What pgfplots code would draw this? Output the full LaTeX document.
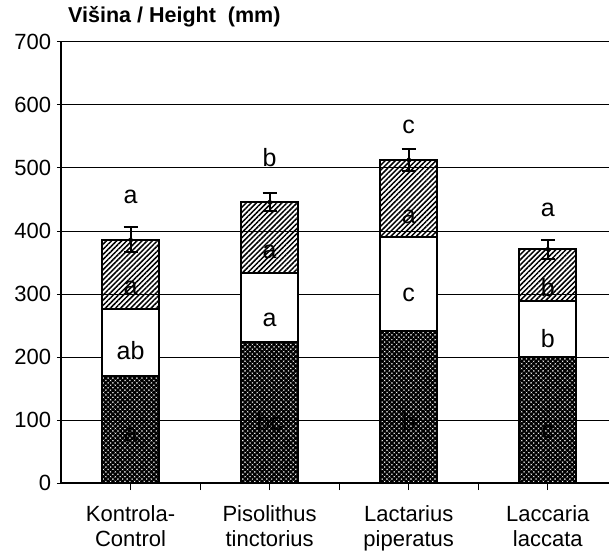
\documentclass[border=0pt]{standalone}
\usepackage{fontspec}
\setmainfont{Liberation Sans}
\usepackage{pgfplots}
\pgfplotsset{compat=1.18}
\usetikzlibrary{patterns.meta}
\tikzset{sig/.style={font=\fontsize{25}{28}\selectfont, inner sep=0pt}}
\begin{document}
\begin{tikzpicture}
\begin{axis}[
  name=ax,
  at={(61pt,73pt)}, anchor=south west,
  scale only axis, width=548pt, height=441pt,
  xmin=-0.5, xmax=3.44, ymin=0, ymax=700,
  clip=false,
  ybar stacked, bar width=57pt,
  axis x line=bottom, axis y line=left,
  axis line style={-, line width=1.4pt},
  tick align=outside,
  ytick={0,100,...,700},
  ymajorgrids, grid style={black, line width=1pt},
  y tick style={black, line width=1pt, /pgfplots/major tick length=4pt},
  xtick={0.5,1.5,2.5}, xticklabels={},
  x tick style={black, line width=1pt, /pgfplots/major tick length=7pt},
  extra x ticks={0,1,2,3},
  extra x tick labels={{Kontrola-\\Control},{Pisolithus\\tinctorius},{Lactarius\\piperatus},{Laccaria\\laccata}},
  extra x tick style={/pgfplots/major tick length=0pt, tick label style={align=center, yshift=-19pt}},
  ticklabel style={font=\fontsize{22}{25}\selectfont},
  /pgf/number format/assume math mode=true,
  yticklabel style={xshift=-2pt},
]
\addplot[draw=black, line width=2pt, pattern={Hatch[angle=45,distance=3.4pt,line width=2pt]}]
  coordinates {(0,170) (1,224) (2,241) (3,200)};
\addplot[draw=black, line width=2pt, fill=white]
  coordinates {(0,106) (1,109) (2,149) (3,89)};
\addplot[draw=black, line width=2pt, pattern={Lines[angle=45,distance=3.6pt,line width=1.5pt]}]
  coordinates {(0,110) (1,113) (2,123) (3,82)};
\end{axis}
\begin{axis}[
  at={(61pt,73pt)}, anchor=south west,
  scale only axis, width=548pt, height=441pt,
  xmin=-0.5, xmax=3.44, ymin=0, ymax=700,
  clip=false, axis lines=none,
]
\addplot[only marks, mark=none,
  error bars/.cd, y dir=both, y explicit,
  error bar style={line width=2pt, black},
  error mark options={rotate=90, mark size=7pt, line width=2pt, black}]
  coordinates {(0,386) +- (0,20) (1,446) +- (0,14) (2,513) +- (0,17) (3,371) +- (0,15)};
% significance letters
\node[sig] at (axis cs:0,76) {a};
\node[sig] at (axis cs:1,97) {bc};
\node[sig] at (axis cs:2,97) {b};
\node[sig] at (axis cs:3,81) {c};
\node[sig] at (axis cs:0,211) {ab};
\node[sig] at (axis cs:1,259) {a};
\node[sig] at (axis cs:2,298) {c};
\node[sig] at (axis cs:3,230) {b};
\node[sig] at (axis cs:0,309) {a};
\node[sig] at (axis cs:1,367) {a};
\node[sig] at (axis cs:2,422) {a};
\node[sig] at (axis cs:3,311) {b};
\node[sig] at (axis cs:0,454) {a};
\node[sig] at (axis cs:1,516) {b};
\node[sig] at (axis cs:2,565) {c};
\node[sig] at (axis cs:3,433) {a};
\end{axis}
\node[anchor=west, inner sep=0pt, font=\bfseries\fontsize{21.5}{24}\selectfont] at ([xshift=7pt,yshift=25pt]ax.north west) {Višina / Height\ \ (mm)};
\pgfresetboundingbox
\path[use as bounding box] (0,0) rectangle (609pt,556pt);
\end{tikzpicture}
\end{document}
